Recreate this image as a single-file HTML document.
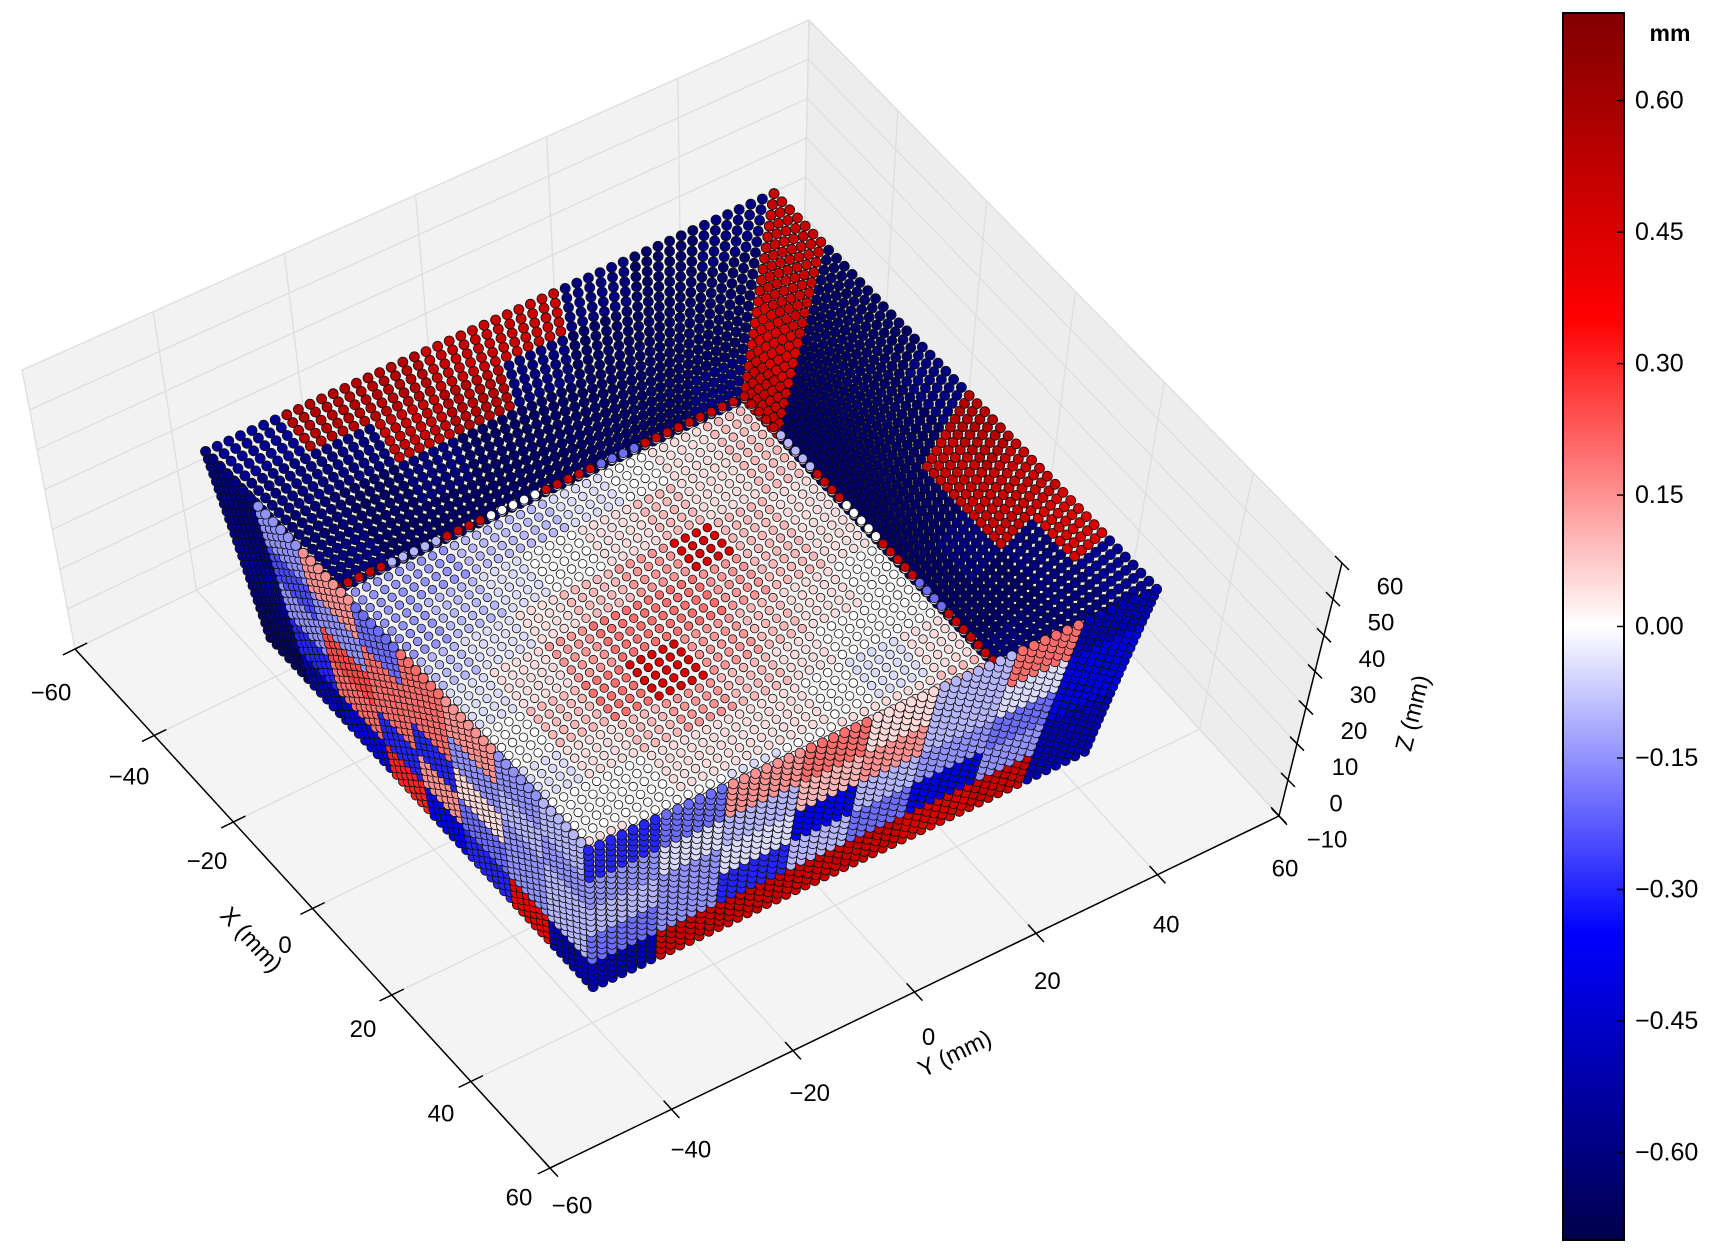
<!DOCTYPE html>
<html><head><meta charset="utf-8">
<style>
html,body{margin:0;padding:0;background:#fff;}
body{width:1724px;height:1250px;overflow:hidden;position:relative;font-family:"Liberation Sans",sans-serif;}
svg{position:absolute;left:0;top:0;}
</style></head>
<body>
<svg id="chart" width="1724" height="1250" viewBox="0 0 1724 1250">
  <g id="panes"></g>
  <g id="points"></g>
  <g id="axes"></g>
  <g id="cbar"></g>
</svg>
<script>
// ---------- data ----------
var xTicks = [-60,-40,-20,0,20,40,60];
var yTicks = [-60,-40,-20,0,20,40,60];
var zTicks = [-10,0,10,20,30,40,50,60];
var cbarTicks = [0.60,0.45,0.30,0.15,0.00,-0.15,-0.30,-0.45,-0.60];
var cbarLabels = ["0.60","0.45","0.30","0.15","0.00","\u22120.15","\u22120.30","\u22120.45","\u22120.60"];
var farWallXValues = [
  [-0.6,-0.65,-0.65,-0.65,-0.65,-0.65,-0.65,-0.6],
  [-0.62,-0.65,-0.6,-0.65,-0.65,-0.65,-0.65,-0.65],
  [-0.6,-0.6,0.5,0.55,-0.6,-0.65,-0.65,-0.65],
  [-0.55,0.55,0.55,0.5,0.5,-0.6,-0.65,-0.6]
];
var farWallYValues = [
  [0.5,-0.65,-0.65,-0.65,-0.65,-0.65,-0.65,-0.6],
  [0.45,-0.65,-0.65,-0.65,-0.65,-0.6,-0.65,-0.62],
  [0.5,-0.65,-0.65,-0.65,0.5,0.5,-0.6,-0.6],
  [0.5,-0.65,-0.65,-0.6,0.55,0.5,0.45,-0.55]
];
var floorValues = [
  [-0.15,-0.15,-0.1,-0.05,0.0,-0.05,0.0,0.05],
  [-0.15,-0.1,-0.05,0.05,0.1,0.05,0.0,0.0],
  [-0.1,-0.05,0.05,0.15,0.2,0.1,0.05,0.0],
  [-0.1,0.0,0.1,0.2,0.45,0.15,0.05,-0.05],
  [-0.05,0.05,0.15,0.2,0.15,0.1,0.05,0.0],
  [0.0,0.1,0.45,0.15,0.1,0.05,0.0,0.05],
  [0.05,0.05,0.1,0.1,0.05,0.0,-0.05,0.05],
  [0.1,0.1,0.05,0.05,0.0,0.0,0.05,0.1]
];
var floorEdgeValues = [0.5,-0.1,0.5,0.0,0.5,-0.2,0.5,0.5];
var nearWallYValues = [
  [-0.65,-0.5,-0.4,0.3,-0.35,-0.3,0.4,-0.5],
  [-0.6,-0.3,0.2,-0.3,0.15,-0.2,-0.15,-0.1],
  [-0.55,-0.15,0.25,0.2,-0.3,0.05,-0.15,-0.1],
  [-0.6,-0.25,-0.15,0.2,0.2,-0.15,-0.1,-0.15],
  [-0.6,-0.15,0.15,-0.2,0.2,0.15,-0.15,-0.1]
];
var nearWallXValues = [
  [-0.5,0.5,0.5,0.5,0.5,0.45,0.5,-0.5],
  [-0.2,-0.15,-0.3,-0.1,-0.2,-0.4,-0.15,-0.5],
  [-0.1,-0.15,-0.05,-0.35,-0.1,-0.15,-0.2,-0.4],
  [-0.15,-0.05,-0.1,0.1,0.15,-0.1,-0.05,-0.4],
  [-0.3,-0.2,0.15,0.2,0.05,-0.1,0.2,-0.5]
];

// ---------- projection ----------
var F00=[75,649],F10=[550,1168],F11=[1279,816],F01=[803,295];
var T00=[22,370],T10=[556,921],T11=[1342,563],T01=[809,20];
function bil(a,b,c,d,u,v){return [a[0]*(1-u)*(1-v)+b[0]*u*(1-v)+c[0]*u*v+d[0]*(1-u)*v,a[1]*(1-u)*(1-v)+b[1]*u*(1-v)+c[1]*u*v+d[1]*(1-u)*v];}
function P(x,y,z){
  var u=(x+60)/120,v=(y+60)/120,t=(z+10)/70;
  var f=bil(F00,F10,F11,F01,u,v),g=bil(T00,T10,T11,T01,u,v);
  return [f[0]+(g[0]-f[0])*t,f[1]+(g[1]-f[1])*t];
}
var NS="http://www.w3.org/2000/svg";
function mk(tag,attrs,parent){var e=document.createElementNS(NS,tag);for(var k in attrs)e.setAttribute(k,attrs[k]);parent.appendChild(e);return e;}
function cmap(v){
  var s=(v+0.7)/1.4; s=Math.max(0,Math.min(1,s));
  var stops=[[0,0,0,77],[0.25,0,0,255],[0.5,255,255,255],[0.75,255,0,0],[1,128,0,0]];
  for(var i=0;i<4;i++){if(s<=stops[i+1][0]){var a=stops[i],b=stops[i+1],f=(s-a[0])/(b[0]-a[0]);
    return "rgb("+Math.round(a[1]+(b[1]-a[1])*f)+","+Math.round(a[2]+(b[2]-a[2])*f)+","+Math.round(a[3]+(b[3]-a[3])*f)+")";}}
  return "rgb(128,0,0)";
}
function poly(pts,attrs,parent){attrs.points=pts.map(function(p){return p[0].toFixed(1)+","+p[1].toFixed(1);}).join(" ");return mk("polygon",attrs,parent);}
function line(a,b,attrs,parent){attrs.x1=a[0];attrs.y1=a[1];attrs.x2=b[0];attrs.y2=b[1];return mk("line",attrs,parent);}

// ---------- panes + grid ----------
var panes=document.getElementById("panes");
var pf=poly([P(-60,-60,-10),P(60,-60,-10),P(60,60,-10),P(-60,60,-10)],{fill:"#f4f4f4",stroke:"#ececec"},panes);

var pl=poly([P(-60,-60,-10),P(-60,60,-10),P(-60,60,60),P(-60,-60,60)],{fill:"#f2f2f2",stroke:"#ececec"},panes);

var pr=poly([P(-60,60,-10),P(60,60,-10),P(60,60,60),P(-60,60,60)],{fill:"#ededed",stroke:"#e6e6e6"},panes);

var gs={stroke:"#dedede","stroke-width":1.3};
xTicks.forEach(function(x){var g=line(P(x,-60,-10),P(x,60,-10),Object.assign({},gs),panes);
  var g2=line(P(x,60,-10),P(x,60,60),Object.assign({},gs),panes);});
yTicks.forEach(function(y){var g=line(P(-60,y,-10),P(60,y,-10),Object.assign({},gs),panes);
  var g2=line(P(-60,y,-10),P(-60,y,60),Object.assign({},gs),panes);});
zTicks.forEach(function(z){var g=line(P(-60,-60,z),P(-60,60,z),Object.assign({},gs),panes);
  var g2=line(P(-60,60,z),P(60,60,z),Object.assign({},gs),panes);});

// ---------- points ----------
var ptsG=document.getElementById("points");
function sample(vals,s,t){var r=vals.length,c=vals[0].length;var i=Math.max(0,Math.min(r-1,Math.floor(t*r))),j=Math.max(0,Math.min(c-1,Math.floor(s*c)));return vals[i][j];}
function drawFace(name,vals,ns,nt,geo,rad){
  var list=[];
  for(var i=0;i<nt;i++)for(var j=0;j<ns;j++){
    var s=ns>1?j/(ns-1):0,t=nt>1?i/(nt-1):0;var q=geo(s,t);var p=P(q[0],q[1],q[2]);
    list.push({p:p,v:sample(vals,s,t),k:(q[0]-q[1])*0.5+q[2]*0.8});
  }
  list.sort(function(a,b){return a.k-b.k;});
  var g=mk("g",{},ptsG);
  
  
  list.forEach(function(o){
    var c=mk("circle",{cx:o.p[0].toFixed(1),cy:o.p[1].toFixed(1),r:rad,fill:cmap(o.v),stroke:"#111","stroke-width":0.8},g);
    
    
  });
}
function lerp(a,b,t){return a+(b-a)*t;}
drawFace("far-wall-x",farWallXValues,50,20,function(s,t){var x=lerp(-31,-44,t),y0=lerp(-34,-44,t),y1=lerp(31,44,t);return [x,lerp(y0,y1,s),lerp(18,46,t)];},5);
drawFace("far-wall-y",farWallYValues,50,20,function(s,t){var y=lerp(31,44,t),x0=lerp(-31,-44,t),x1=lerp(34,44,t);return [lerp(x0,x1,s),y,lerp(18,46,t)];},5);
drawFace("floor",floorValues,38,38,function(s,t){return [lerp(-31,34,s),lerp(-34,31,t),18];},4.3);
drawFace("floor-edge-x",[floorEdgeValues],38,1,function(s,t){return [-31,lerp(-34,31,s),18.5];},4.5);
drawFace("floor-edge-y",[floorEdgeValues],38,1,function(s,t){return [lerp(-31,34,s),31,18.5];},4.5);
drawFace("near-wall-y",nearWallYValues,52,26,function(s,t){var y=lerp(-40,-44,t);return [lerp(-40,40,s)+(s<0.5?lerp(0,-4,t)*(1-2*s):lerp(0,4,t)*(2*s-1)),y,lerp(0,46,t)];},5);
drawFace("near-wall-x",nearWallXValues,52,26,function(s,t){var x=lerp(40,44,t);return [x,lerp(-40,40,s)+(s<0.5?lerp(0,-4,t)*(1-2*s):lerp(0,4,t)*(2*s-1)),lerp(0,46,t)];},5);

// ---------- axes ----------
var ax=document.getElementById("axes");
function txt(x,y,s,attrs,name){var t=mk("text",Object.assign({x:x,y:y,"font-size":24,"text-anchor":"middle","dominant-baseline":"central",fill:"#000"},attrs||{}),ax);t.textContent=s;return t;}
function minus(v){return v<0?"\u2212"+(-v):""+v;}
var xl=line(P(-60,-60,-10),P(60,-60,-10),{stroke:"#000","stroke-width":1.5},ax);
var yl=line(P(60,-60,-10),P(60,60,-10),{stroke:"#000","stroke-width":1.5},ax);
var zl=line(P(60,60,-10),P(60,60,60),{stroke:"#000","stroke-width":1.5},ax);
xTicks.forEach(function(x,i){var f=i/(xTicks.length-1);var a=P(x,-62,-10),b=P(x,-58,-10);
  var tk=line(a,b,{stroke:"#000","stroke-width":1.5},ax);
  var p=P(x,-60,-10);txt(p[0]+lerp(-24,-31,f),p[1]+lerp(44,30,f),minus(x),{},'x-tick-label');});
yTicks.forEach(function(y,i){var f=i/(yTicks.length-1);var a=P(58,y,-10),b=P(62,y,-10);
  var tk=line(a,b,{stroke:"#000","stroke-width":1.5},ax);
  var p=P(60,y,-10);txt(p[0]+lerp(22,6,f),p[1]+lerp(38,53,f),minus(y),{},'y-tick-label');});
zTicks.forEach(function(z){var p=P(60,60,z);
  var tk=line([p[0]-7,p[1]-7],[p[0]+7,p[1]+7],{stroke:"#000","stroke-width":1.5},ax);
  txt(p[0]+48,p[1]+24,minus(z),{},'z-tick-label');});
txt(251,940,"X (mm)",{transform:"rotate(47.5 251 940)"},'x-axis-title');
txt(955,1054,"Y (mm)",{transform:"rotate(-25.8 955 1054)"},'y-axis-title');
txt(1413,713,"Z (mm)",{transform:"rotate(-76 1413 713)"},'z-axis-title');

// ---------- colorbar ----------
var cb=document.getElementById("cbar");
var defs=mk("defs",{},cb);
var lg=mk("linearGradient",{id:"cg",x1:0,y1:0,x2:0,y2:1},defs);
[[0,"#800000"],[0.25,"#ff0000"],[0.5,"#ffffff"],[0.75,"#0000ff"],[1,"#00004d"]].forEach(function(s){mk("stop",{offset:s[0],"stop-color":s[1]},lg);});
var CB_TOP=13,CB_BOT=1240,CB_X=1563,CB_W=61;
function cbY(v){return CB_TOP+(0.7-v)/1.4*(CB_BOT-CB_TOP);}
var rect=mk("rect",{x:CB_X,y:CB_TOP,width:CB_W,height:CB_BOT-CB_TOP,fill:"url(#cg)",stroke:"#000","stroke-width":2},cb);

cbarTicks.forEach(function(v,i){var y=cbY(v);
  var tk=line([CB_X+CB_W-7,y],[CB_X+CB_W,y],{stroke:"#000","stroke-width":1.5},cb);
  var t=mk("text",{x:CB_X+CB_W+11,y:y,"font-size":25,"dominant-baseline":"central",fill:"#000"},cb);t.textContent=cbarLabels[i];
  });
var u=mk("text",{x:1670,y:33,"font-size":23,"font-weight":"bold","text-anchor":"middle","dominant-baseline":"central",fill:"#000"},cb);u.textContent="mm";

</script>
</body></html>
